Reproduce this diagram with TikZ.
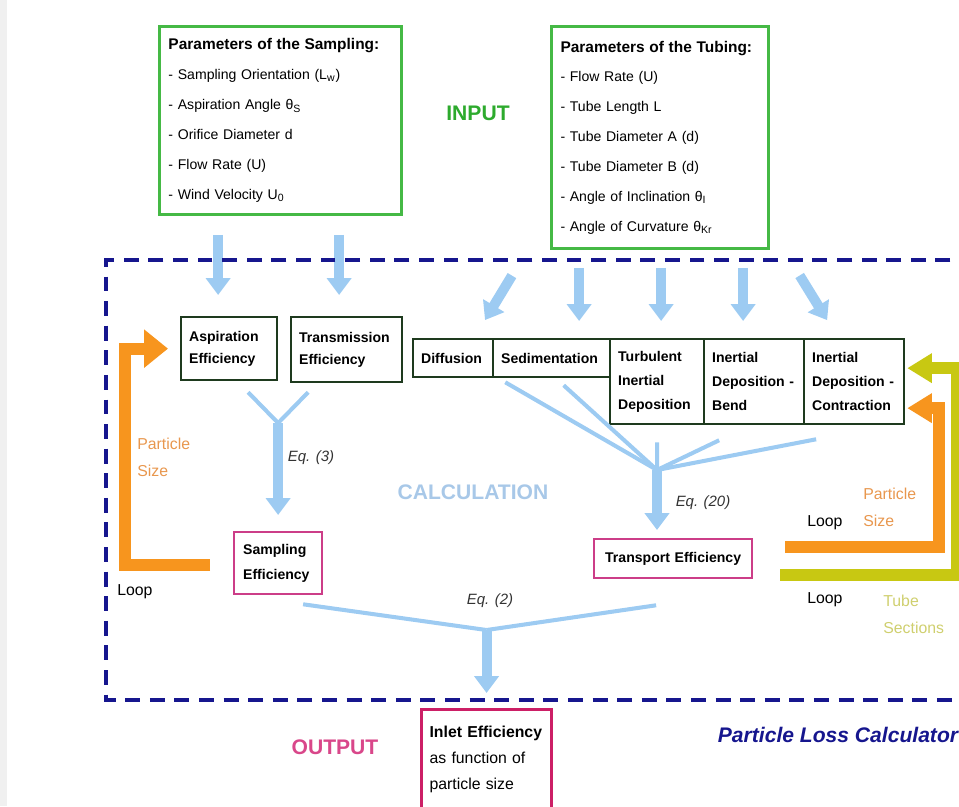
\documentclass[tikz,border=0pt]{standalone}
\usepackage{fontspec}
\setmainfont{Liberation Sans}
\usetikzlibrary{arrows.meta}
\definecolor{ingreen}{HTML}{45B945}
\definecolor{inputgreen}{HTML}{2DAA2D}
\definecolor{effgreen}{HTML}{1E3A1E}
\definecolor{arrblue}{HTML}{9DCBF2}
\definecolor{framenavy}{HTML}{16168E}
\definecolor{respink}{HTML}{CC3D88}
\definecolor{inletpink}{HTML}{CC1F66}
\definecolor{ploop}{HTML}{F7951E}
\definecolor{tloop}{HTML}{C8C812}
\definecolor{sizeorange}{HTML}{E8974E}
\definecolor{tubeolive}{HTML}{CFCF6E}
\definecolor{calcblue}{HTML}{A8C8E8}
\definecolor{outpink}{HTML}{D9478A}
\definecolor{eqgray}{HTML}{333333}
\tikzset{
  inbox/.style={draw=ingreen, line width=1.7pt, anchor=north west, align=left,
    inner xsep=0.18cm, inner ysep=0pt, font=\fontsize{8}{17}\selectfont},
  effbox/.style={draw=effgreen, line width=1.3pt, anchor=north west, align=left,
    inner xsep=0.16cm, inner ysep=0pt, font=\bfseries\fontsize{8}{12.5}\selectfont},
  rowbox/.style={effbox, font=\bfseries\fontsize{8}{13.5}\selectfont},
  resbox/.style={draw=respink, line width=1.3pt, anchor=north west, align=left,
    inner xsep=0.18cm, inner ysep=0pt, font=\bfseries\fontsize{8}{14}\selectfont},
  bigarrow/.style={draw=arrblue, line width=5.7pt, -{Triangle[width=13.6pt,length=9.6pt]}},
  fanline/.style={draw=arrblue, line width=2.3pt},
  sizeloop/.style={draw=ploop, line width=6.8pt},
  tubeloop/.style={draw=tloop, line width=6.8pt},
  frame/.style={draw=framenavy, line width=2.3pt, dash pattern=on 8.5pt off 5.5pt},
  eqlabel/.style={font=\itshape\fontsize{8.5}{10}\selectfont, text=eqgray},
  sidelabel/.style={anchor=west, align=left, inner sep=0pt, font=\fontsize{9}{15.3}\selectfont},
  headline/.style={font=\bfseries\fontsize{12}{14}\selectfont}
}
\begin{document}
\begin{tikzpicture}[x=0.02cm,y=-0.02cm]
\useasboundingbox (0,0) rectangle (959,806);
\fill[gray!12] (0,0) rectangle (7,806);
% input
\node[inbox, text width=4.48cm, minimum height=3.76cm] (samp) at (158,25)
  {\textbf{\fontsize{8.8}{17}\selectfont Parameters of the Sampling:}\\- Sampling Orientation (L\textsubscript{w})\\- Aspiration Angle θ\textsubscript{S}\\- Orifice Diameter d\\- Flow Rate (U)\\- Wind Velocity U\textsubscript{0}};
\node[inbox, text width=3.98cm, minimum height=4.44cm] (tub) at (550,25)
  {\textbf{\fontsize{8.8}{17}\selectfont Parameters of the Tubing:}\\- Flow Rate (U)\\- Tube Length L\\- Tube Diameter A (d)\\- Tube Diameter B (d)\\- Angle of Inclination θ\textsubscript{I}\\- Angle of Curvature θ\textsubscript{Kr}};
\node[headline, text=inputgreen] (inp) at (478,113) {INPUT};
% calculation
\node[effbox, text width=1.6cm, minimum height=1.26cm] (asp) at (180,316) {Aspiration\\Efficiency};
\node[effbox, text width=1.9cm, minimum height=1.30cm] (trans) at (290,316) {Transmission\\Efficiency};
\node[rowbox, text width=1.28cm, minimum height=0.76cm] (diff) at (412,338) {Diffusion};
\node[rowbox, text width=2.02cm, minimum height=0.76cm] (sed) at (492,338) {Sedimentation};
\node[rowbox, text width=1.56cm, minimum height=1.70cm] (turb) at (609,338) {Turbulent\\Inertial\\Deposition};
\node[rowbox, text width=1.68cm, minimum height=1.70cm] (bend) at (703,338) {Inertial\\Deposition -\\Bend};
\node[rowbox, text width=1.68cm, minimum height=1.70cm] (contr) at (803,338) {Inertial\\Deposition -\\Contraction};
\node[resbox, text width=1.40cm, minimum height=1.24cm] (seff) at (233,531) {Sampling\\Efficiency};
\node[resbox, text width=2.80cm, minimum height=0.78cm, align=center] (transp) at (593,538) {Transport Efficiency};
\node[resbox, draw=inletpink, line width=1.8pt, text width=2.28cm, inner xsep=0.16cm, minimum height=2.0cm,
  font=\fontsize{9}{14.7}\selectfont] (inlet) at (420,708) {\textbf{Inlet Efficiency}\\as function of\\particle size};
\node[headline, text=calcblue] (calc) at (473,492) {CALCULATION};
\node[headline, text=outpink] (outp) at (335,747) {OUTPUT};
\node[font=\bfseries\itshape\fontsize{12}{14}\selectfont, text=framenavy] (plc) at (838,735) {Particle Loss Calculator};
\node[eqlabel] (eq3) at (311,458) {Eq. (3)};
\node[eqlabel] (eq20) at (703,503) {Eq. (20)};
\node[eqlabel] (eq2) at (490,601) {Eq. (2)};
\node[sidelabel, text=sizeorange] (psl) at (137,457) {Particle\\Size};
\node[sidelabel] (loopl) at (117,592) {Loop};
\node[sidelabel] (loopr1) at (807,523) {Loop};
\node[sidelabel] (loopr2) at (807,600) {Loop};
\node[sidelabel, text=sizeorange] (psr) at (863,507) {Particle\\Size};
\node[sidelabel, text=tubeolive] (tubes) at (883,614) {Tube\\Sections};
% input arrows
\draw[bigarrow, shorten <=0.38cm, shorten >=0.42cm] ([xshift=-0.22cm]asp.north |- samp.south) -- ([xshift=-0.22cm]asp.north);
\draw[bigarrow, shorten <=0.38cm, shorten >=0.42cm] ([xshift=-0.15cm]trans.north |- samp.south) -- ([xshift=-0.15cm]trans.north);
\draw[bigarrow, shorten <=0.6cm, shorten >=0.42cm] ([xshift=-0.45cm]tub.south west) -- ([xshift=0.42cm]diff.north);
\draw[bigarrow, shorten <=0.36cm, shorten >=0.34cm] ([xshift=0.55cm]sed.north |- tub.south) -- ([xshift=0.55cm]sed.north);
\draw[bigarrow, shorten <=0.36cm, shorten >=0.34cm] ([xshift=0.08cm]turb.north |- tub.south) -- ([xshift=0.08cm]turb.north);
\draw[bigarrow, shorten <=0.36cm, shorten >=0.34cm] ([xshift=-0.22cm]bend.north |- tub.south) -- ([xshift=-0.22cm]bend.north);
\draw[bigarrow, shorten <=0.6cm, shorten >=0.42cm] ([xshift=0.28cm]tub.south east) -- ([xshift=-0.32cm]contr.north);
% Eq. (3)
\coordinate (yj) at ([yshift=2.16cm]seff.north);
\draw[fanline] ([shift={(0.38cm,-0.22cm)}]asp.south) -- (yj);
\draw[fanline] ([shift={(-0.77cm,-0.18cm)}]trans.south) -- (yj);
\draw[bigarrow, shorten >=0.32cm] (yj) -- (seff.north);
% Eq. (20)
\coordinate (fanj) at (657,470);
\draw[fanline] ([shift={(0.22cm,-0.08cm)}]diff.south east) -- (fanj);
\draw[fanline] ([shift={(0.24cm,-0.14cm)}]sed.south) -- (fanj);
\draw[fanline] ([yshift=-0.34cm]turb.south) -- (fanj);
\draw[fanline] ([shift={(-0.7cm,-0.3cm)}]bend.south) -- (fanj);
\draw[fanline] ([shift={(-0.76cm,-0.28cm)}]contr.south) -- (fanj);
\draw[bigarrow, shorten >=0.16cm] (fanj) -- (fanj |- transp.north);
% Eq. (2)
\coordinate (ej) at ([yshift=1.56cm]inlet.north);
\draw[fanline] ([shift={(0.5cm,-0.18cm)}]seff.south) -- (ej);
\draw[fanline] ([shift={(-0.34cm,-0.52cm)}]transp.south) -- (ej);
\draw[bigarrow, shorten >=0.3cm] (ej) -- (inlet.north);
% loops
\coordinate (lstart) at (210,565);
\draw[sizeloop, -{Triangle[width=21pt,length=13.6pt]}, shorten >=0.24cm] (lstart) -| ([xshift=-1.1cm]asp.west) -- (asp.west);
\coordinate (rstart1) at (785,547);
\draw[sizeloop, -{Triangle[width=16pt,length=14pt]}, shorten >=0.04cm] (rstart1) -| ([shift={(0.68cm,-0.53cm)}]contr.east) -- ([yshift=-0.53cm]contr.east);
\coordinate (rstart2) at (780,575);
\draw[tubeloop, -{Triangle[width=16pt,length=14pt]}, shorten >=0.04cm] (rstart2) -| ([shift={(1.04cm,0.27cm)}]contr.east) -- ([yshift=0.27cm]contr.east);
% frame
\draw[frame] (975,260) -- (106,260) -- (106,700) -- (975,700);
\end{tikzpicture}
\end{document}
